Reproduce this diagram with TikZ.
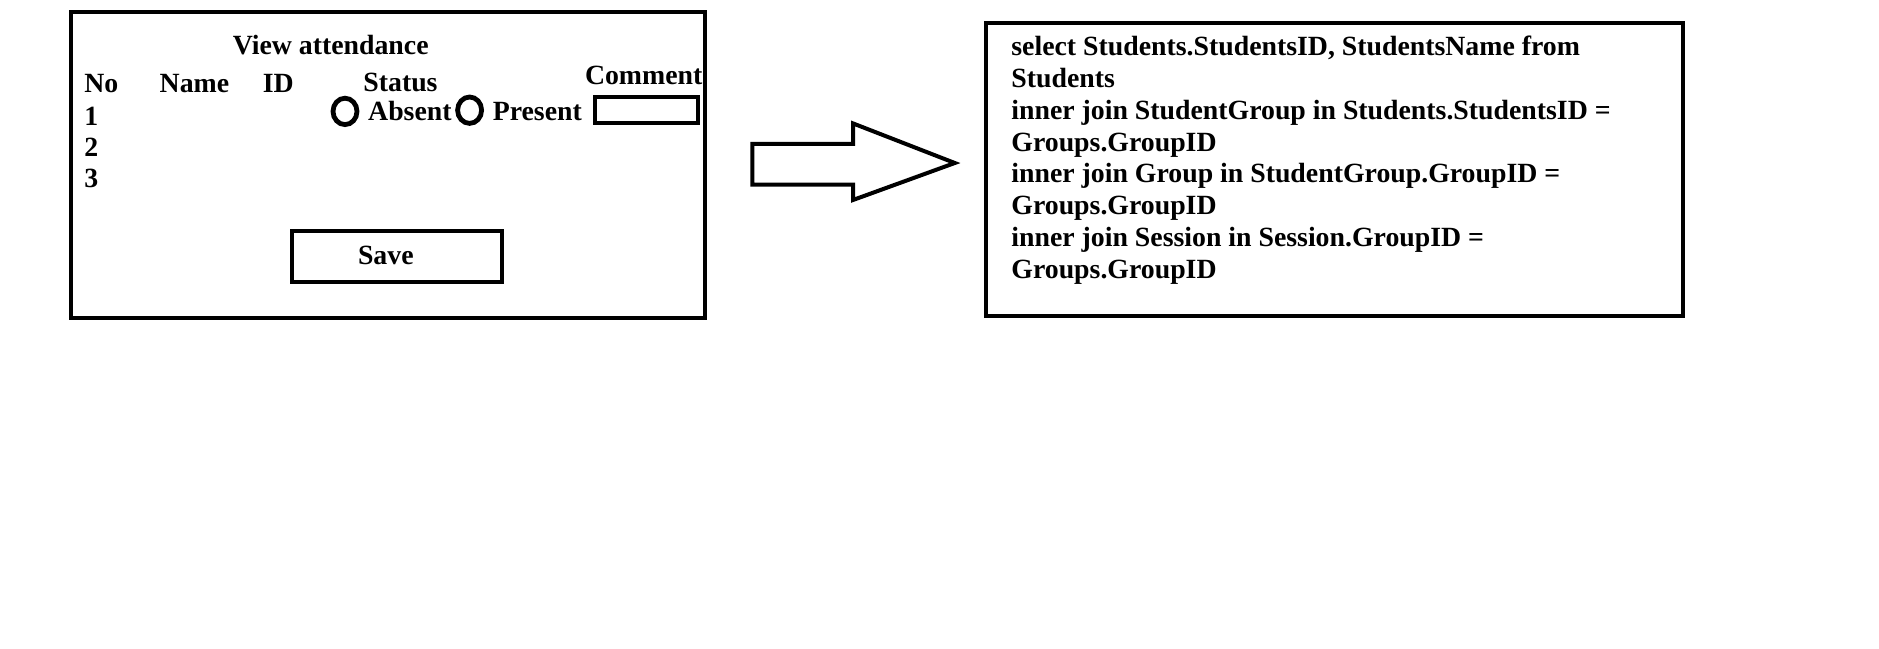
\documentclass[tikz,border=0pt]{standalone}
\usepackage{fontspec}
\setmainfont{Liberation Serif}
\usetikzlibrary{positioning}
\tikzset{
  panel/.style={draw, line width=2pt, inner sep=0pt},
  caption/.style={inner sep=0pt, anchor=base west},
  radio/.style={draw, line width=2.4pt, ellipse, minimum width=12pt, minimum height=13.2pt, inner sep=0pt},
}
\usetikzlibrary{shapes.geometric}
\begin{document}
\begin{tikzpicture}[x=0.5pt, y=-0.5pt, font=\fontsize{13.9}{16}\selectfont\bfseries]
  \useasboundingbox (0,0) rectangle (1879,648);
  % attendance form
  \node[panel, minimum width=316.95pt, minimum height=152.75pt] (form) at (387.65,164.75) {};
  \node[inner sep=0pt, anchor=base] (title) at (330.7,54.5) {View attendance};
  \node[caption] (colno) at (83.9,92.9) {No};
  \node[caption] (colname) at (159.3,92.9) {Name};
  \node[caption] (colid) at (262.4,92.9) {ID};
  \node[caption] (colstatus) at (363,91.7) {Status};
  \node[caption] (colcomment) at (584.6,84.5) {Comment};
  \node[caption] (row1) at (83.9,125.2) {1};
  \node[caption] (row2) at (83.9,156.4) {2};
  \node[caption] (row3) at (83.9,187.5) {3};
  \node[radio] (absentbtn) at (345,111.4) {};
  \node[caption] (absent) at (367.8,120.4) {Absent};
  \node[radio] (presentbtn) at (469.6,110.2) {};
  \node[caption] (present) at (492.4,120.4) {Present};
  \node[panel, minimum width=51.5pt, minimum height=13.2pt] (comment) at (646.9,110.2) {};
  \node[panel, minimum width=104.85pt, minimum height=25.15pt] (save) at (397.15,256.35) {};
  \node[inner sep=0pt, anchor=base] (savetext) at (385.8,264.2) {Save};
  % block arrow
  \draw[line width=2pt, line join=miter] (752.3,143.8) -- (853,143.8) -- (853,123.4) -- (954.8,163)
    -- (853,200) -- (853,184.5) -- (752.3,184.5) -- cycle;
  % query
  \node[panel, minimum width=348.5pt, minimum height=146.75pt] (query) at (1334.5,169.55) {};
  \foreach \line [count=\i] in {{select Students.StudentsID, StudentsName from}, Students,
      inner join StudentGroup in Students.StudentsID =, Groups.GroupID,
      inner join Group in StudentGroup.GroupID =, Groups.GroupID,
      inner join Session in Session.GroupID =, Groups.GroupID}
    \node[caption] (sql\i) at (1011,{55.7+31.8*(\i-1)}) {\line};
\end{tikzpicture}
\end{document}
